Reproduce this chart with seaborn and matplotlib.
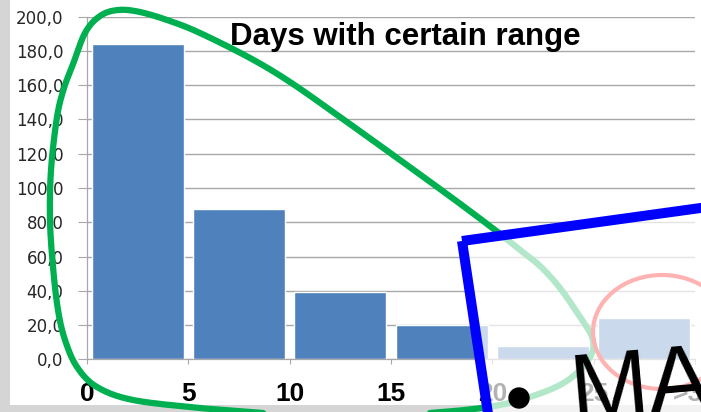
import numpy as np
import matplotlib
matplotlib.use("Agg")
import matplotlib.pyplot as plt
from matplotlib.patches import Rectangle, Polygon, Ellipse, Circle
import seaborn as sns

# Histogram of days per range bin
categories = ["0-5", "5-10", "10-15", "15-20", "20-25", "25-30"]
days = [184, 88, 39, 20, 8, 24]
edge_labels = ["0", "5", "10", "15", "20", "25", ">30"]
y_ticks = [0, 20, 40, 60, 80, 100, 120, 140, 160, 180, 200]
title = "Days with certain range"

W, H = 701, 412
sns.set_style("white")
plt.rcParams["font.family"] = ["DejaVu Sans"]

fig = plt.figure(figsize=(W / 100, H / 100), dpi=100)
fig.patch.set_facecolor("#d5d5d5")
# white slide panel
fig.patches.append(Rectangle((10 / W, 7 / H), 1, 1, transform=fig.transFigure,
                             facecolor="white", edgecolor="none", zorder=-1))

ax = fig.add_axes([87 / W, (H - 359.3) / H, 608 / W, (359.3 - 16.7) / H])
ax.set_facecolor("none")
sns.barplot(x=categories, y=days, color="#4f81bd", saturation=1, width=0.91,
            ax=ax, zorder=2)
ax.set_xlim(-0.5, len(categories) - 0.5)
ax.set_ylim(0, 200)
ax.set_yticks(y_ticks)
ax.set_yticklabels([f"{v:.1f}".replace(".", ",") for v in y_ticks],
                   fontsize=12, color="#262626", family="DejaVu Sans")
ax.set_xticks(np.arange(-0.5, len(categories), 1))
ax.set_xticklabels(edge_labels, fontsize=19, fontweight="bold",
                   family="Liberation Sans", color="black")
ax.set_xlabel("")
ax.set_ylabel("")
ax.yaxis.grid(True, color="#a8a8a8", linewidth=1.0, zorder=0)
ax.set_axisbelow(True)
ax.tick_params(axis="y", length=6.5, width=0.8, color="#a8a8a8", pad=10.5,
               left=True)
ax.tick_params(axis="x", length=3.6, width=0.8, color="#a8a8a8", pad=13,
               bottom=True)
for s in ("top", "right"):
    ax.spines[s].set_visible(False)
for s in ("left", "bottom"):
    ax.spines[s].set_color("#a8a8a8")
    ax.spines[s].set_linewidth(0.9)
ax.text(405 / W, 1 - 45 / H, title, transform=fig.transFigure, ha="center",
        va="baseline", fontsize=22.5, fontweight="bold",
        family="Liberation Sans", color="black", zorder=5)

# hand-drawn annotation layer in pixel coordinates
ov = fig.add_axes([0, 0, 1, 1])
ov.set_xlim(0, W)
ov.set_ylim(H, 0)
ov.axis("off")
ov.patch.set_visible(False)


def catmull_rom(pts, n=20):
    pts = np.asarray(pts, float)
    p = np.vstack([pts[0], pts, pts[-1]])
    out = []
    for i in range(1, len(p) - 2):
        p0, p1, p2, p3 = p[i - 1], p[i], p[i + 1], p[i + 2]
        t = np.linspace(0, 1, n, endpoint=False)[:, None]
        out.append(0.5 * ((2 * p1) + (-p0 + p2) * t
                          + (2 * p0 - 5 * p1 + 4 * p2 - p3) * t ** 2
                          + (-p0 + 3 * p1 - 3 * p2 + p3) * t ** 3))
    out.append(p[-2][None, :])
    return np.vstack(out)


loop = [(330, 418), (250, 412), (200, 408), (133, 400), (97, 387), (77, 367),
        (65, 340), (58, 310), (53, 267), (50, 220), (51, 170), (57, 117),
        (64, 88), (72, 67), (85, 33), (100, 16), (118, 10), (140, 12),
        (170, 21), (200, 33), (250, 58), (290, 82), (340, 117), (400, 160),
        (455, 200), (495, 230), (520, 250), (540, 266), (560, 288),
        (580, 317), (592, 337), (592, 353), (580, 370), (560, 385),
        (530, 397), (500, 405), (465, 410), (430, 413), (390, 418)]
c = catmull_rom(loop)
ov.plot(c[:, 0], c[:, 1], color="#00b050", lw=4.5, solid_capstyle="round",
        solid_joinstyle="round", zorder=1)

ov.add_patch(Ellipse((662, 332), 138, 114, fill=False, edgecolor="#ff0000",
                     lw=3, zorder=2))

box = [(462, 241), (780, 197), (780, 480), (498, 480)]
ov.add_patch(Polygon(box, closed=True, facecolor="white", alpha=0.7,
                     edgecolor="none", zorder=3))
ov.add_patch(Polygon(box, closed=True, fill=False, edgecolor="#0000ff",
                     lw=7.2, joinstyle="round", zorder=4))

ov.add_patch(Circle((519, 398), 10, color="black", zorder=5))
ov.text(572, 420, "MA", fontsize=68, family="Liberation Sans", color="black",
        rotation=5, rotation_mode="anchor", ha="left", va="baseline",
        zorder=6)

fig.savefig("out.png", dpi=100, facecolor=fig.get_facecolor())
